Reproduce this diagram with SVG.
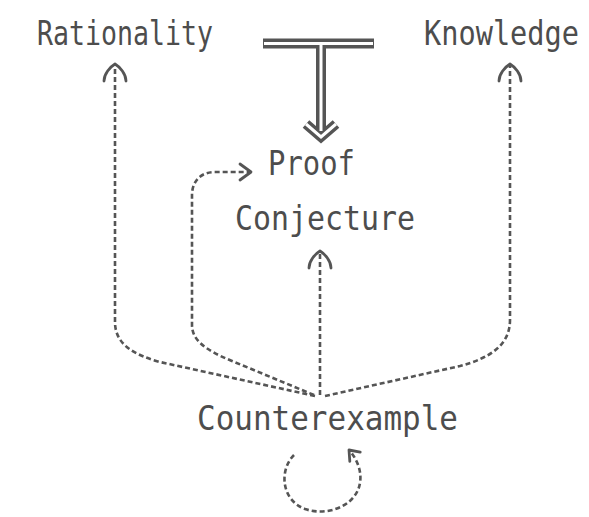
<svg xmlns="http://www.w3.org/2000/svg" width="589" height="517" viewBox="0 0 589 517">
<style>
text{font-family:"DejaVu Sans Mono","Liberation Mono",monospace;font-size:34px;fill:#4d4d4d}
.dash{fill:none;stroke:#555;stroke-width:2.6;stroke-dasharray:5 3}
.head{fill:none;stroke:#555;stroke-width:2.8;stroke-linecap:round;stroke-linejoin:round}
.dbl{fill:none;stroke:#555;stroke-width:10}
.dblin{fill:none;stroke:#fff;stroke-width:3}
</style>
<defs>
<marker id="arch" markerUnits="userSpaceOnUse" viewBox="-20 -14 24 28" markerWidth="24" markerHeight="28" refX="0" refY="0" orient="auto" overflow="visible">
<path class="head" d="M-17,-11 C-10,-11 -3,-5 0,0 C-3,5 -10,11 -17,11"/>
</marker>
<marker id="chev" markerUnits="userSpaceOnUse" viewBox="-14 -10 16 20" markerWidth="16" markerHeight="20" refX="0" refY="0" orient="auto" overflow="visible">
<path class="head" d="M-11,-8 L0,0 L-11,8"/>
</marker>
<marker id="small" markerUnits="userSpaceOnUse" viewBox="-12 -10 14 20" markerWidth="14" markerHeight="20" refX="0" refY="0" orient="auto" overflow="visible">
<path class="head" d="M-9,-7 L0,0 L-9,7"/>
</marker>
</defs>

<g id="rationality"><text x="37" y="45" textLength="176" lengthAdjust="spacingAndGlyphs">Rationality</text></g>
<g id="knowledge"><text x="424" y="45" style="font-size:28px" transform="translate(0,45) scale(1,1.2) translate(0,-45)" textLength="155" lengthAdjust="spacingAndGlyphs">Knowledge</text></g>
<g id="proof"><text x="268" y="175" textLength="87" lengthAdjust="spacingAndGlyphs">Proof</text></g>
<g id="conjecture"><text x="235" y="230" textLength="180" lengthAdjust="spacingAndGlyphs">Conjecture</text></g>
<g id="counterexample"><text x="197" y="430" textLength="261" lengthAdjust="spacingAndGlyphs">Counterexample</text></g>

<g id="connectors">
<path class="dbl" d="M263,43.5 H374 M321,43.5 V131"/>
<path class="dbl" d="M306,124 L321,137 L336,124" stroke-width="7" stroke-linejoin="miter"/>
<path class="dblin" d="M264,43.5 H373 M321,43.5 V131"/>
<path class="dblin" d="M306,124 L321,137 L336,124" stroke-width="1.8"/>

<path class="dash" d="M315,396 L160,362 C135,355 115,345 115,322 V64" marker-end="url(#arch)"/>
<path class="dash" d="M325,396 L460,366 C490,358 510,345 510,320 V64" marker-end="url(#arch)"/>
<path class="dash" d="M320,395 V251" marker-end="url(#arch)"/>
<path class="dash" d="M314,395 L232,361 C205,350 192,340 192,325 V195 C192,182 200,172 215,172 H251" marker-end="url(#chev)"/>
<path class="dash" d="M294,455 C279,470 281,500 305,509 C325,516 350,508 358,490 C364,475 358,460 349,450" marker-end="url(#small)"/>
</g>
</svg>
